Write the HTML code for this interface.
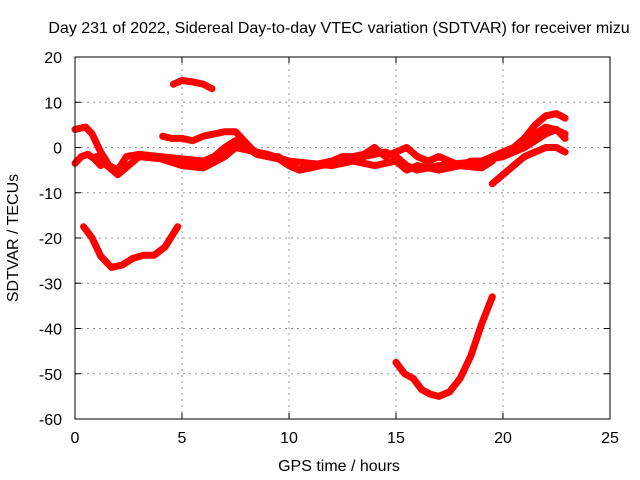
<!DOCTYPE html>
<html><head><meta charset="utf-8"><style>
body{margin:0;background:#fff}
svg{display:block;font-family:"Liberation Sans",sans-serif}
</style></head><body>
<svg id="chart" width="640" height="480">
<text x="339" y="33" font-size="16" text-anchor="middle">Day 231 of 2022, Sidereal Day-to-day VTEC variation (SDTVAR) for receiver mizu</text>
<text x="339" y="471" font-size="16" text-anchor="middle">GPS time / hours</text>
<text transform="translate(18,238) rotate(-90)" font-size="16" text-anchor="middle">SDTVAR / TECUs</text>
<g id="grid"></g>
<g id="ticks"></g>
<g id="series"></g>
<rect x="75" y="57" width="535" height="362" fill="none" stroke="#000" stroke-width="1"/>
</svg>
<script>
const xTicks=[0,5,10,15,20,25];
const yTicks=[20,10,0,-10,-20,-30,-40,-50,-60];
const s1x=[0.4,0.8,1.2,1.7,2.2,2.7,3.2,3.7,4.2,4.8];
const s1y=[-17.5,-20,-24,-26.5,-26,-24.5,-23.8,-23.8,-22,-17.5];
const s2x=[15,15.4,15.8,16.2,16.6,17,17.5,18,18.5,19,19.5];
const s2y=[-47.5,-50,-51,-53.5,-54.5,-55,-54,-51,-46,-39,-33];
const s3x=[4.6,5,5.5,6,6.4];
const s3y=[14,14.8,14.5,14,13];
const s4x=[4.1,4.5,5,5.5,6,6.5,7,7.5,8,8.5,9,9.5,10,10.5,11,11.5,12,12.5,13,13.5,14,14.5,15,15.5,16,16.5,17,17.5,18,18.5,19,19.5,20,20.5,21,21.5,22,22.5,22.9];
const s4y=[2.5,2,2,1.5,2.5,3,3.5,3.5,1,-1.5,-2,-2,-4,-5,-4,-3.5,-3,-2,-2,-1.5,0,-2,-1,0,-2,-3,-2,-3,-4,-3,-3,-2,-1,0,2,5,7,7.5,6.5];
const s5x=[0,0.5,0.8,1.2,1.6,2,2.4,3,4,5,6,6.5,7,7.5,8,8.5,9.5,10,10.5,11,12,13,14,14.5,15,15.5,16,17,18,19,20,21,22,22.5,22.9];
const s5y=[4,4.5,3,-1,-4,-5,-2,-1.5,-2,-2.5,-3,-2,0,1.5,0,-1.5,-2.5,-4,-5,-4.5,-3.5,-2.5,-1.5,-1,-2,-4,-5,-4,-3.5,-3,-2,0,3,4,2];
const s6x=[0,0.3,0.6,0.9,1.2];
const s6y=[-3.5,-2,-1.5,-2.5,-4];
const s7x=[1,1.5,2,2.5,3,4,5,6,7,7.5,8,9,10,11,12,13,14,15,15.5,16,17,18,19,19.5];
const s7y=[-2,-4,-6,-4,-2,-2.5,-4,-4.5,-2,0,-0.5,-1.5,-3,-3.5,-4,-3,-4,-3,-5,-4,-5,-4,-4.5,-3];
const s8x=[19.5,20,20.5,21,21.5,22,22.5,22.9];
const s8y=[-8,-6,-4,-2,-1,0,0,-1];
const s9x=[21,21.5,22,22.4,22.9];
const s9y=[1,3,4.5,4,3];
const NS='http://www.w3.org/2000/svg';
const X=v=>75+v*(535/25);
const Y=v=>57+(20-v)*(362/80);
const grid=document.getElementById('grid'),ticks=document.getElementById('ticks'),ser=document.getElementById('series');
function mk(t,a,p){const e=document.createElementNS(NS,t);for(const k in a)e.setAttribute(k,a[k]);p.appendChild(e);return e;}
xTicks.forEach(v=>{
 if(v>0&&v<25){const g=mk('line',{x1:X(v),x2:X(v),y1:57,y2:419,stroke:'#999','stroke-dasharray':'2,4'},grid);
 
 }
 const t=mk('text',{x:X(v),y:443,'font-size':16,'text-anchor':'middle'},ticks);t.textContent=v;
 
 
 mk('line',{x1:X(v),x2:X(v),y1:419,y2:413,stroke:'#000'},ticks);
 mk('line',{x1:X(v),x2:X(v),y1:57,y2:63,stroke:'#000'},ticks);
});
yTicks.forEach(v=>{
 if(v<20&&v>-60){const g=mk('line',{x1:75,x2:610,y1:Y(v),y2:Y(v),stroke:'#999','stroke-dasharray':'2,4'},grid);
 
 }
 const t=mk('text',{x:62,y:Y(v)+6,'font-size':16,'text-anchor':'end'},ticks);t.textContent=v;
 
 
 mk('line',{x1:75,x2:81,y1:Y(v),y2:Y(v),stroke:'#000'},ticks);
 mk('line',{x1:610,x2:604,y1:Y(v),y2:Y(v),stroke:'#000'},ticks);
});
[[s1x,s1y],[s2x,s2y],[s3x,s3y],[s4x,s4y],[s5x,s5y],[s6x,s6y],[s7x,s7y],[s8x,s8y],[s9x,s9y]].forEach((s,i)=>{
 const pts=s[0].map((x,j)=>X(x).toFixed(1)+','+Y(s[1][j]).toFixed(1)).join(' ');
 const p=mk('polyline',{points:pts,fill:'none',stroke:'#f00','stroke-width':7,'stroke-linejoin':'round','stroke-linecap':'round'},ser);
 
 
});
</script>
</body></html>
